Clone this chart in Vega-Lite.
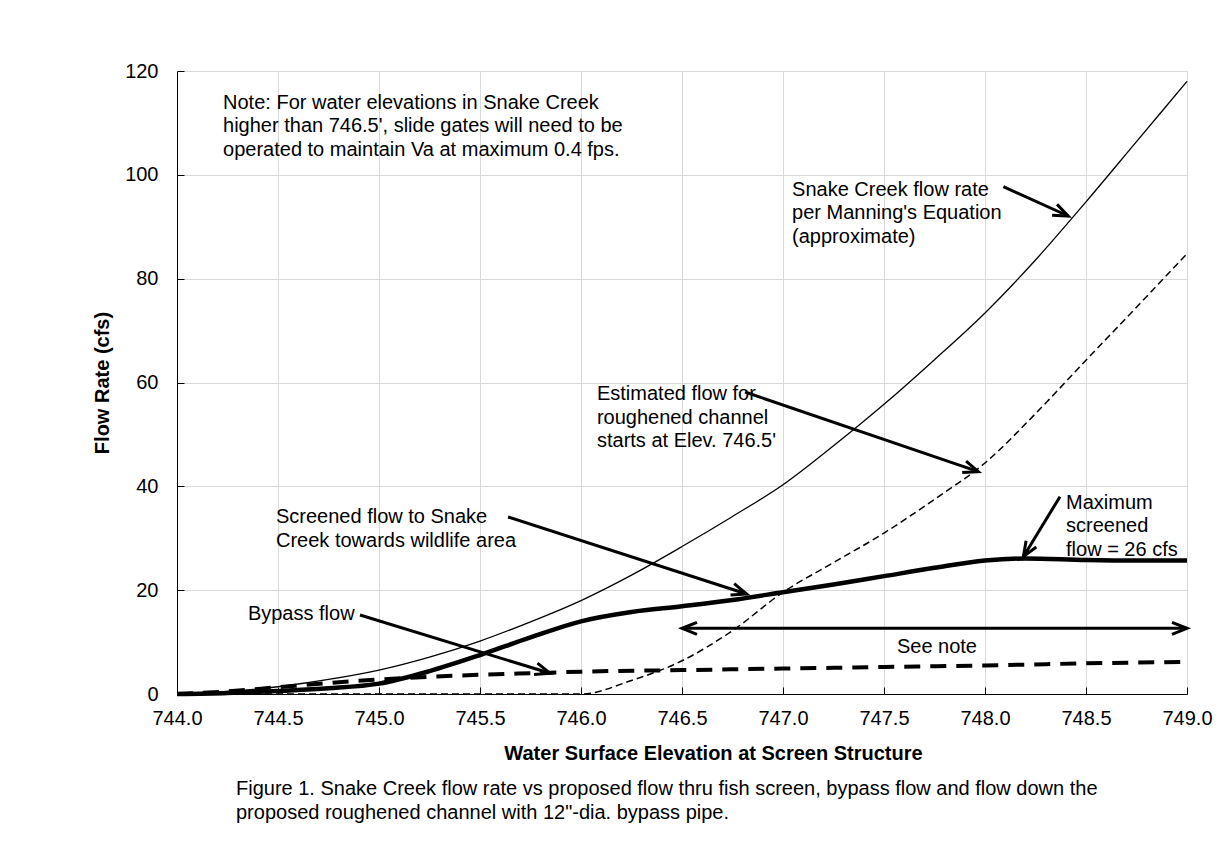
{
  "$schema": "https://vega.github.io/schema/vega-lite/v6.json",
  "width": 1010,
  "height": 623,
  "autosize": {"type": "none"},
  "padding": {"left": 177, "top": 71, "right": 39, "bottom": 174},
  "background": "white",
  "config": {
    "font": "Liberation Sans",
    "view": {"stroke": null},
    "axis": {
      "domainColor": "black", "domainWidth": 1,
      "tickColor": "black", "tickSize": -7, "tickWidth": 1,
      "gridColor": "#d9d9d9", "gridWidth": 1,
      "labelFont": "Liberation Sans", "labelFontSize": 20, "labelColor": "black",
      "labelFlush": false, "labelOverlap": false,
      "titleFont": "Liberation Sans", "titleFontSize": 20, "titleFontWeight": "bold", "titleColor": "black"
    }
  },
  "title": {
    "text": ["Figure 1.  Snake Creek flow rate vs proposed flow thru fish screen, bypass flow and flow down the", "proposed roughened channel with 12\"-dia. bypass pipe."],
    "orient": "bottom", "anchor": "start", "frame": "group", "dx": 59, "offset": 16,
    "font": "Liberation Sans", "fontSize": 20, "fontWeight": "normal", "color": "black", "lineHeight": 23.5
  },
  "datasets": {
    "series": [
      {"s": "snake", "x": 744.0, "y": 0}, {"s": "snake", "x": 744.25, "y": 0.5}, {"s": "snake", "x": 744.5, "y": 1.4}, {"s": "snake", "x": 744.75, "y": 2.8},
      {"s": "snake", "x": 745.0, "y": 4.6}, {"s": "snake", "x": 745.25, "y": 7.1}, {"s": "snake", "x": 745.5, "y": 10.2}, {"s": "snake", "x": 745.75, "y": 13.9},
      {"s": "snake", "x": 746.0, "y": 18.0}, {"s": "snake", "x": 746.25, "y": 22.9}, {"s": "snake", "x": 746.5, "y": 28.4}, {"s": "snake", "x": 746.75, "y": 34.2},
      {"s": "snake", "x": 747.0, "y": 40.3}, {"s": "snake", "x": 747.25, "y": 47.8}, {"s": "snake", "x": 747.5, "y": 55.8}, {"s": "snake", "x": 747.75, "y": 64.4},
      {"s": "snake", "x": 748.0, "y": 73.4}, {"s": "snake", "x": 748.25, "y": 83.6}, {"s": "snake", "x": 748.5, "y": 94.8}, {"s": "snake", "x": 748.75, "y": 106.4},
      {"s": "snake", "x": 749.0, "y": 118.0},
      {"s": "screened", "x": 744.0, "y": 0}, {"s": "screened", "x": 744.25, "y": 0.2}, {"s": "screened", "x": 744.5, "y": 0.6}, {"s": "screened", "x": 744.75, "y": 1.1},
      {"s": "screened", "x": 745.0, "y": 2.0}, {"s": "screened", "x": 745.25, "y": 4.4}, {"s": "screened", "x": 745.5, "y": 7.5}, {"s": "screened", "x": 745.75, "y": 10.9},
      {"s": "screened", "x": 746.0, "y": 14.0}, {"s": "screened", "x": 746.25, "y": 15.8}, {"s": "screened", "x": 746.5, "y": 16.9}, {"s": "screened", "x": 746.75, "y": 18.1},
      {"s": "screened", "x": 747.0, "y": 19.6}, {"s": "screened", "x": 747.25, "y": 21.1}, {"s": "screened", "x": 747.5, "y": 22.7}, {"s": "screened", "x": 747.75, "y": 24.3},
      {"s": "screened", "x": 748.0, "y": 25.7}, {"s": "screened", "x": 748.2, "y": 26.1}, {"s": "screened", "x": 748.5, "y": 25.8}, {"s": "screened", "x": 748.75, "y": 25.7},
      {"s": "screened", "x": 749.0, "y": 25.7},
      {"s": "bypass", "x": 744.0, "y": 0}, {"s": "bypass", "x": 744.25, "y": 0.5}, {"s": "bypass", "x": 744.5, "y": 1.3}, {"s": "bypass", "x": 744.75, "y": 2.1},
      {"s": "bypass", "x": 745.0, "y": 2.8}, {"s": "bypass", "x": 745.25, "y": 3.3}, {"s": "bypass", "x": 745.5, "y": 3.7}, {"s": "bypass", "x": 745.75, "y": 4.0},
      {"s": "bypass", "x": 746.0, "y": 4.3}, {"s": "bypass", "x": 746.5, "y": 4.6}, {"s": "bypass", "x": 747.0, "y": 4.9}, {"s": "bypass", "x": 747.5, "y": 5.2},
      {"s": "bypass", "x": 748.0, "y": 5.5}, {"s": "bypass", "x": 748.5, "y": 5.9}, {"s": "bypass", "x": 749.0, "y": 6.2},
      {"s": "rough", "x": 744.0, "y": 0}, {"s": "rough", "x": 744.5, "y": 0}, {"s": "rough", "x": 745.0, "y": 0}, {"s": "rough", "x": 745.5, "y": 0},
      {"s": "rough", "x": 746.0, "y": 0}, {"s": "rough", "x": 746.25, "y": 2.6}, {"s": "rough", "x": 746.5, "y": 6.4}, {"s": "rough", "x": 746.75, "y": 12.2},
      {"s": "rough", "x": 747.0, "y": 19.6}, {"s": "rough", "x": 747.25, "y": 25.3}, {"s": "rough", "x": 747.5, "y": 31.0}, {"s": "rough", "x": 747.75, "y": 37.5},
      {"s": "rough", "x": 748.0, "y": 44.5}, {"s": "rough", "x": 748.25, "y": 54.0}, {"s": "rough", "x": 748.5, "y": 64.3}, {"s": "rough", "x": 748.75, "y": 74.5},
      {"s": "rough", "x": 749.0, "y": 84.8}
    ],
    "arrows": [
      {"id": "snake", "x": 748.091, "y": 97.71, "x2": 748.412, "y2": 92.07},
      {"id": "est", "x": 746.812, "y": 58.17, "x2": 747.967, "y2": 42.82},
      {"id": "screen", "x": 745.639, "y": 34.09, "x2": 746.82, "y2": 19.26},
      {"id": "bypass", "x": 744.906, "y": 15.22, "x2": 745.847, "y2": 3.99},
      {"id": "max", "x": 748.371, "y": 38.0, "x2": 748.19, "y2": 26.45},
      {"id": "see", "x": 746.5, "y": 12.65, "x2": 749.0, "y2": 12.65}
    ],
    "heads": [
      {"id": "snake", "x": 748.412, "y": 92.07},
      {"id": "est", "x": 747.967, "y": 42.82},
      {"id": "screen", "x": 746.82, "y": 19.26},
      {"id": "bypass", "x": 745.847, "y": 3.99},
      {"id": "max", "x": 748.19, "y": 26.45},
      {"id": "see_l", "x": 746.5, "y": 12.65},
      {"id": "see_r", "x": 749.0, "y": 12.65}
    ],
    "notes": [
      {"t": "Note: For water elevations in Snake Creek\nhigher than  746.5', slide gates will need to be\noperated to maintain Va at maximum 0.4 fps.", "x": 744.228, "y": 115.78},
      {"t": "Snake Creek flow rate\nper Manning's Equation\n(approximate)", "x": 747.045, "y": 99.1},
      {"t": "Estimated flow for\nroughened channel\nstarts at Elev. 746.5'", "x": 746.079, "y": 59.67},
      {"t": "Screened flow to Snake\nCreek towards wildlife area", "x": 744.49, "y": 35.98},
      {"t": "Bypass flow", "x": 744.351, "y": 17.24},
      {"t": "Maximum\nscreened\nflow  = 26 cfs", "x": 748.401, "y": 38.74},
      {"t": "See note", "x": 747.564, "y": 10.94}
    ]
  },
  "encoding": {
    "x": {
      "field": "x", "type": "quantitative",
      "scale": {"domain": [744, 749], "nice": false, "zero": false},
      "axis": {
        "values": [744, 744.5, 745, 745.5, 746, 746.5, 747, 747.5, 748, 748.5, 749],
        "format": ".1f", "labelPadding": 21, "grid": true,
        "title": "Water Surface Elevation at Screen Structure",
        "titleX": 536, "titleY": 65, "titleAlign": "center", "titleBaseline": "alphabetic"
      }
    },
    "y": {
      "field": "y", "type": "quantitative",
      "scale": {"domain": [0, 120], "nice": false},
      "axis": {
        "values": [0, 20, 40, 60, 80, 100, 120],
        "format": "d", "labelPadding": 26, "grid": true,
        "title": "Flow Rate (cfs)",
        "titleX": -69, "titleY": 311.5, "titleAngle": 270, "titleAlign": "center", "titleBaseline": "alphabetic"
      }
    }
  },
  "layer": [
    {"data": {"name": "series"}, "transform": [{"filter": "datum.s == 'rough'"}],
     "mark": {"type": "line", "interpolate": "monotone", "color": "black", "strokeWidth": 1.5, "strokeDash": [7, 4]}},
    {"data": {"name": "series"}, "transform": [{"filter": "datum.s == 'snake'"}],
     "mark": {"type": "line", "interpolate": "monotone", "color": "black", "strokeWidth": 1.3}},
    {"data": {"name": "series"}, "transform": [{"filter": "datum.s == 'bypass'"}],
     "mark": {"type": "line", "interpolate": "monotone", "color": "black", "strokeWidth": 4, "strokeDash": [16, 10]}},
    {"data": {"name": "series"}, "transform": [{"filter": "datum.s == 'screened'"}],
     "mark": {"type": "line", "interpolate": "monotone", "color": "black", "strokeWidth": 4.5}},
    {"data": {"name": "arrows"},
     "mark": {"type": "rule", "color": "black", "strokeWidth": 3},
     "encoding": {"x2": {"field": "x2"}, "y2": {"field": "y2"}}},
    {"data": {"name": "heads"}, "transform": [{"filter": "datum.id == 'snake'"}],
     "mark": {"type": "point", "shape": "M-6,15L0,0L6,15", "size": 4, "angle": 114.3, "filled": false, "stroke": "black", "strokeWidth": 3, "opacity": 1}},
    {"data": {"name": "heads"}, "transform": [{"filter": "datum.id == 'est'"}],
     "mark": {"type": "point", "shape": "M-6,15L0,0L6,15", "size": 4, "angle": 108.9, "filled": false, "stroke": "black", "strokeWidth": 3, "opacity": 1}},
    {"data": {"name": "heads"}, "transform": [{"filter": "datum.id == 'screen'"}],
     "mark": {"type": "point", "shape": "M-6,15L0,0L6,15", "size": 4, "angle": 107.9, "filled": false, "stroke": "black", "strokeWidth": 3, "opacity": 1}},
    {"data": {"name": "heads"}, "transform": [{"filter": "datum.id == 'bypass'"}],
     "mark": {"type": "point", "shape": "M-6,15L0,0L6,15", "size": 4, "angle": 107.1, "filled": false, "stroke": "black", "strokeWidth": 3, "opacity": 1}},
    {"data": {"name": "heads"}, "transform": [{"filter": "datum.id == 'max'"}],
     "mark": {"type": "point", "shape": "M-6,15L0,0L6,15", "size": 4, "angle": -148.5, "filled": false, "stroke": "black", "strokeWidth": 3, "opacity": 1}},
    {"data": {"name": "heads"}, "transform": [{"filter": "datum.id == 'see_l'"}],
     "mark": {"type": "point", "shape": "M-6,15L0,0L6,15", "size": 4, "angle": -90, "filled": false, "stroke": "black", "strokeWidth": 3, "opacity": 1}},
    {"data": {"name": "heads"}, "transform": [{"filter": "datum.id == 'see_r'"}],
     "mark": {"type": "point", "shape": "M-6,15L0,0L6,15", "size": 4, "angle": 90, "filled": false, "stroke": "black", "strokeWidth": 3, "opacity": 1}},
    {"data": {"name": "notes"},
     "mark": {"type": "text", "align": "left", "baseline": "top", "fontSize": 20, "lineBreak": "\n", "lineHeight": 23.5, "color": "black", "font": "Liberation Sans"},
     "encoding": {"text": {"field": "t"}}}
  ]
}
